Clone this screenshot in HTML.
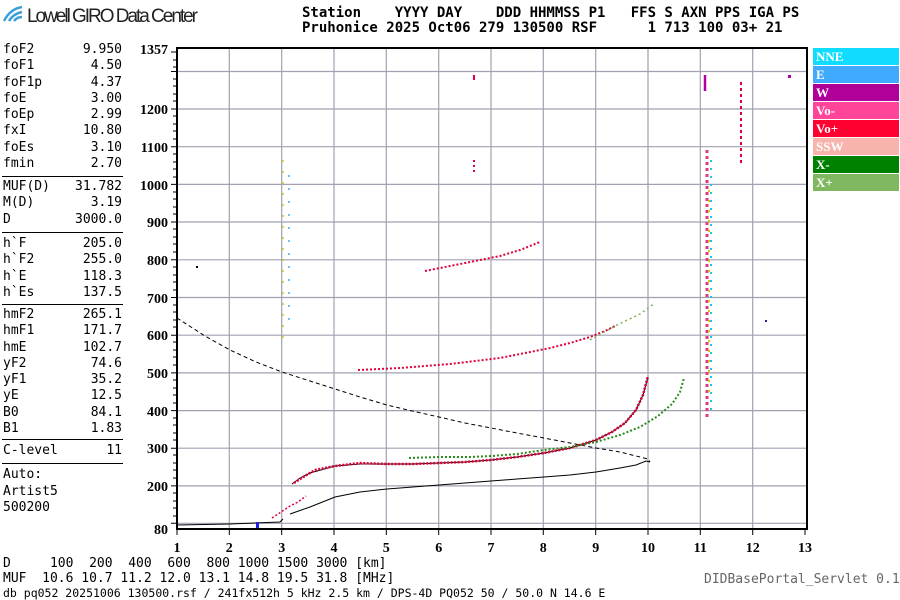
<!DOCTYPE html>
<html><head><meta charset="utf-8"><style>
body{margin:0;width:900px;height:600px;background:#fff;overflow:hidden;position:relative;font-family:"DejaVu Sans Mono","Liberation Mono",monospace}
.t{position:absolute;font-size:13px;color:#000;white-space:pre}
.lg{position:absolute;left:813px;width:86px;height:17px;color:#fff;font:bold 13px "Liberation Serif",serif;padding-left:3px;box-sizing:border-box;line-height:17px}
</style></head><body>
<svg width="900" height="600" style="position:absolute;left:0;top:0" font-family="Liberation Serif,serif">
<!-- logo -->
<path d="M4 21 Q10 9 22 7" stroke="#3ba0d8" stroke-width="2.5" fill="none"/>
<path d="M9 21 Q13 14 22 12" stroke="#3ba0d8" stroke-width="2.5" fill="none"/>
<path d="M14 21 Q17 17 22 17" stroke="#3ba0d8" stroke-width="2.5" fill="none"/>
<text x="27" y="22" font-family="Liberation Sans,sans-serif" font-size="19" fill="#222" textLength="171">Lowell GIRO Data Center</text>
<!-- grid -->
<g stroke="#a0a0b0" stroke-width="1.2">
<line x1="229.3" y1="48" x2="229.3" y2="529"/><line x1="281.7" y1="48" x2="281.7" y2="529"/><line x1="334" y1="48" x2="334" y2="529"/><line x1="386.3" y1="48" x2="386.3" y2="529"/><line x1="438.7" y1="48" x2="438.7" y2="529"/><line x1="491" y1="48" x2="491" y2="529"/><line x1="543.3" y1="48" x2="543.3" y2="529"/><line x1="595.7" y1="48" x2="595.7" y2="529"/><line x1="648" y1="48" x2="648" y2="529"/><line x1="700.3" y1="48" x2="700.3" y2="529"/><line x1="752.7" y1="48" x2="752.7" y2="529"/>
<line x1="177" y1="71.5" x2="807" y2="71.5"/><line x1="177" y1="109" x2="807" y2="109"/><line x1="177" y1="146.7" x2="807" y2="146.7"/><line x1="177" y1="184.4" x2="807" y2="184.4"/><line x1="177" y1="222" x2="807" y2="222"/><line x1="177" y1="259.8" x2="807" y2="259.8"/><line x1="177" y1="297.5" x2="807" y2="297.5"/><line x1="177" y1="335.2" x2="807" y2="335.2"/><line x1="177" y1="372.9" x2="807" y2="372.9"/><line x1="177" y1="410.6" x2="807" y2="410.6"/><line x1="177" y1="448.2" x2="807" y2="448.2"/><line x1="177" y1="485.9" x2="807" y2="485.9"/><line x1="177" y1="523.3" x2="807" y2="523.3"/>
</g>
<rect x="177" y="48" width="630" height="481" fill="none" stroke="#000" stroke-width="2"/>
<!-- left minor ticks -->
<g stroke="#000" stroke-width="1">
<path d="M171 52H177M173 60H177M173 67H177M171 71.5H177M173 79H177M173 86H177M173 94H177M173 101H177M171 109H177M173 116H177M173 124H177M173 131H177M173 139H177M171 146.7H177M173 154H177M173 162H177M173 169H177M173 177H177M171 184.4H177M173 192H177M173 199H177M173 207H177M173 214H177M171 222H177M173 229H177M173 237H177M173 244H177M173 252H177M171 259.8H177M173 267H177M173 275H177M173 282H177M173 290H177M171 297.5H177M173 305H177M173 312H177M173 320H177M173 327H177M171 335.2H177M173 342H177M173 350H177M173 357H177M173 365H177M171 372.9H177M173 380H177M173 388H177M173 395H177M173 403H177M171 410.6H177M173 418H177M173 425H177M173 433H177M173 440H177M171 448.2H177M173 455H177M173 463H177M173 470H177M173 478H177M171 485.9H177M173 493H177M173 501H177M173 508H177M173 516H177M171 523.3H177"/>
<path d="M177 529V535M229.3 529V535M281.7 529V535M334 529V535M386.3 529V535M438.7 529V535M491 529V535M543.3 529V535M595.7 529V535M648 529V535M700.3 529V535M752.7 529V535M805 529V535"/>
</g>
<g font-size="14" font-weight="bold" text-anchor="end">
<text x="168" y="54">1357</text><text x="168" y="114">1200</text><text x="168" y="152">1100</text><text x="168" y="190">1000</text><text x="168" y="227">900</text><text x="168" y="265">800</text><text x="168" y="303">700</text><text x="168" y="340">600</text><text x="168" y="378">500</text><text x="168" y="416">400</text><text x="168" y="453">300</text><text x="168" y="491">200</text><text x="168" y="534">80</text>
</g>
<g font-size="14" font-weight="bold" text-anchor="middle">
<text x="177" y="552">1</text><text x="229.3" y="552">2</text><text x="281.7" y="552">3</text><text x="334" y="552">4</text><text x="386.3" y="552">5</text><text x="438.7" y="552">6</text><text x="491" y="552">7</text><text x="543.3" y="552">8</text><text x="595.7" y="552">9</text><text x="648" y="552">10</text><text x="700.3" y="552">11</text><text x="752.7" y="552">12</text><text x="805" y="552">13</text>
</g>
<!-- traces -->
<polyline fill="none" stroke="#000" stroke-width="1" stroke-dasharray="4,3" points="177,318 205,336 230,350 256,362 282,372 310,381 335,389 360,397 387,405 412,411 439,417 465,423 491,428 517,433 544,438 570,443 596,448 620,452 636,456 648,459 650,462"/>
<polyline fill="none" stroke="#000" stroke-width="1" points="177,525 230,524 280,522 283,519"/>
<polyline fill="none" stroke="#000" stroke-width="1" points="290,514 310,507 335,497 360,492 387,489 413,487 439,485 465,483 491,481 517,479 544,477 570,475 596,472 620,468 636,465 646,461 650,462"/>
<polyline fill="none" stroke="#000" stroke-width="1" points="292,484 300,478 310,473 335,466 360,464 387,464 413,464 439,463 465,462 491,460 517,457 544,453 570,448 596,440 612,432 625,423 636,410 643,395 648,377"/>
<polyline fill="none" stroke="#e0003a" stroke-width="2.5" stroke-dasharray="2,1.5" points="294,483 305,476 315,470 335,466 360,463 387,464 413,464 439,463 465,462 491,460 517,457 544,453 570,448 596,440 612,432 625,423 636,410 643,395 648,376"/>
<polyline fill="none" stroke="#2a8a1a" stroke-width="2" stroke-dasharray="2,2" points="409,458 440,457 470,457 491,456 517,454 544,450 570,447 596,442 620,435 640,427 658,416 672,404 680,392 684,378"/>
<polyline fill="none" stroke="#e0003a" stroke-width="2" stroke-dasharray="2,2" points="358,370 380,369 400,368 425,366 450,364 475,361 500,358 525,353 550,348 570,343 590,337 605,331 615,326"/>
<polyline fill="none" stroke="#7ab05a" stroke-width="1.5" stroke-dasharray="2,3" points="590,340 615,326 640,314 655,303"/>
<polyline fill="none" stroke="#e0003a" stroke-width="2" stroke-dasharray="2,2" points="425,271 450,266 475,261 500,256 520,250 540,242"/>
<polyline fill="none" stroke="#e0003a" stroke-width="1.5" stroke-dasharray="2,2" points="272,518 278,514 284,510 290,506 298,502 306,496"/>
<!-- vertical stripes -->
<line x1="707" y1="150" x2="707" y2="420" stroke="#e23a7a" stroke-width="3" stroke-dasharray="3,3"/>
<line x1="711" y1="160" x2="711" y2="410" stroke="#18c8e8" stroke-width="2" stroke-dasharray="2,6"/>
<line x1="709" y1="190" x2="709" y2="400" stroke="#d8c020" stroke-width="2" stroke-dasharray="2,8"/>
<line x1="741" y1="82" x2="741" y2="165" stroke="#e0003a" stroke-width="2" stroke-dasharray="3,3"/>
<line x1="705" y1="75" x2="705" y2="91" stroke="#b000a0" stroke-width="2.5"/>
<line x1="283" y1="160" x2="283" y2="340" stroke="#e0c020" stroke-width="1.5" stroke-dasharray="2,9"/>
<line x1="289" y1="175" x2="289" y2="320" stroke="#40a8f8" stroke-width="1.5" stroke-dasharray="2,11"/>
<line x1="474" y1="160" x2="474" y2="175" stroke="#e0003a" stroke-width="2" stroke-dasharray="2,3"/>
<line x1="474" y1="75" x2="474" y2="80" stroke="#e0003a" stroke-width="2"/>
<rect x="256" y="522" width="3" height="6" fill="#2020e0"/>
<rect x="788" y="75" width="3" height="3" fill="#b000a0"/>
<rect x="196" y="266" width="2" height="2" fill="#000"/>
<rect x="765" y="320" width="2" height="2" fill="#2020a0"/>
<!-- footer -->
<text x="704" y="583" font-family="DejaVu Sans Mono,monospace" font-size="13" fill="#666">DIDBasePortal_Servlet 0.1</text>
</svg>
<div class="t" style="left:302px;top:6px;font-size:14px;font-weight:bold;line-height:15px">Station    YYYY DAY    DDD HHMMSS P1   FFS S AXN PPS IGA PS
Pruhonice 2025 Oct06 279 130500 RSF      1 713 100 03+ 21</div>
<div class="t" style="left:3px;top:42px;line-height:16.3px">foF2
foF1
foF1p
foE
foEp
fxI
foEs
fmin</div>
<div class="t" style="left:60px;top:42px;line-height:16.3px;text-align:right;width:62px">9.950
4.50
4.37
3.00
2.99
10.80
3.10
2.70</div>
<div style="position:absolute;left:2px;top:176px;width:121px;border-top:1px solid #000"></div>
<div class="t" style="left:3px;top:179px;line-height:16.3px">MUF(D)
M(D)
D</div>
<div class="t" style="left:60px;top:179px;line-height:16.3px;text-align:right;width:62px">31.782
3.19
3000.0</div>
<div style="position:absolute;left:2px;top:232px;width:121px;border-top:1px solid #000"></div>
<div class="t" style="left:3px;top:236px;line-height:16.3px">h`F
h`F2
h`E
h`Es</div>
<div class="t" style="left:60px;top:236px;line-height:16.3px;text-align:right;width:62px">205.0
255.0
118.3
137.5</div>
<div style="position:absolute;left:2px;top:304px;width:121px;border-top:1px solid #000"></div>
<div class="t" style="left:3px;top:307px;line-height:16.3px">hmF2
hmF1
hmE
yF2
yF1
yE
B0
B1</div>
<div class="t" style="left:60px;top:307px;line-height:16.3px;text-align:right;width:62px">265.1
171.7
102.7
74.6
35.2
12.5
84.1
1.83</div>
<div style="position:absolute;left:2px;top:439px;width:121px;border-top:1px solid #000"></div>
<div class="t" style="left:3px;top:443px">C-level</div>
<div class="t" style="left:60px;top:443px;text-align:right;width:62px">11</div>
<div style="position:absolute;left:2px;top:463px;width:121px;border-top:1px solid #000"></div>
<div class="t" style="left:3px;top:467px;line-height:16.5px">Auto:
Artist5
500200</div>
<div class="t" style="left:3px;top:557px;line-height:14.5px">D     100  200  400  600  800 1000 1500 3000 [km]
MUF  10.6 10.7 11.2 12.0 13.1 14.8 19.5 31.8 [MHz]</div>
<div class="t" style="left:3px;top:586px;font-size:11.5px">db pq052 20251006 130500.rsf / 241fx512h 5 kHz 2.5 km / DPS-4D PQ052 50 / 50.0 N 14.6 E</div>
<div class="lg" style="top:48px;background:#10dcff">NNE</div>
<div class="lg" style="top:66px;background:#40aaff">E</div>
<div class="lg" style="top:84px;background:#b0009a">W</div>
<div class="lg" style="top:102px;background:#ff4499">Vo-</div>
<div class="lg" style="top:120px;background:#ff0030">Vo+</div>
<div class="lg" style="top:138px;background:#f8b4ac">SSW</div>
<div class="lg" style="top:156px;background:#008000">X-</div>
<div class="lg" style="top:174px;background:#80b860">X+</div>
</body></html>
